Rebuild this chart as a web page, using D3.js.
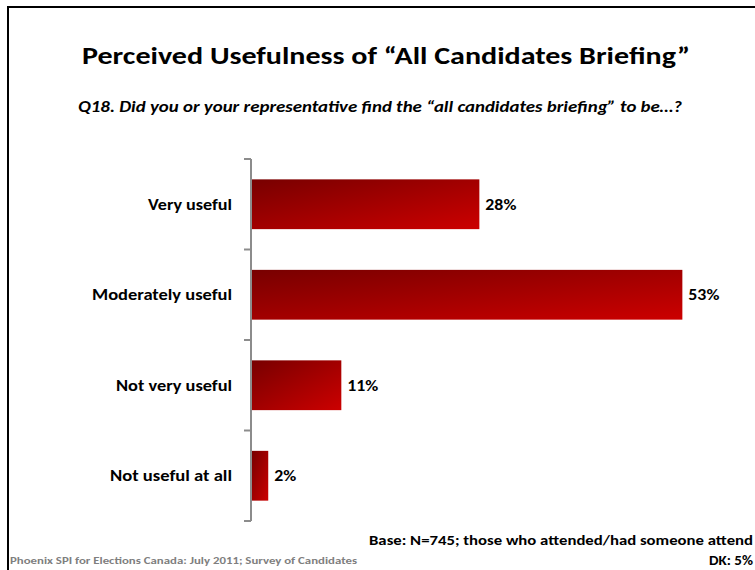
<!DOCTYPE html>
<html>
<head>
<meta charset="utf-8">
<script src="https://cdn.jsdelivr.net/npm/d3@7"></script>
<style>
  html, body { margin: 0; padding: 0; background: #fff; }
  svg { display: block; font-family: Carlito, Lato, "Open Sans", sans-serif; }
</style>
</head>
<body>
<svg id="chart" width="755" height="570"></svg>
<script>
// Survey responses (percent)
const categories = ["Very useful", "Moderately useful", "Not very useful", "Not useful at all"];
const values = [28, 53, 11, 2];
const valueLabels = ["28%", "53%", "11%", "2%"];

const titleText = "Perceived Usefulness of \u201cAll Candidates Briefing\u201d";
const subtitleText = "Q18. Did you or your representative find the \u201call candidates briefing\u201d to be\u2026?";
const sourceText = "Phoenix SPI for Elections Canada: July 2011; Survey of Candidates";
const baseText = "Base: N=745; those who attended/had someone attend";
const dkText = "DK: 5%";

// Approximate rendered widths of the Calibri-style labels
const catWidths = [84, 140, 116, 122];
const valWidths = [31, 31, 31, 22];

const svg = d3.select("#chart");

// Slide frame (top and left edges visible)
svg.append("path")
  .attr("d", "M8,570 L8,7 L755,7")
  .attr("fill", "none")
  .attr("stroke", "#000")
  .attr("stroke-width", 2);

// Bar gradient: dark red top-left to bright red bottom-right
const defs = svg.append("defs");
const grad = defs.append("linearGradient")
  .attr("id", "barGrad")
  .attr("x1", 0).attr("y1", 0).attr("x2", 1).attr("y2", 1);
grad.append("stop").attr("offset", "0%").attr("stop-color", "#780000");
grad.append("stop").attr("offset", "100%").attr("stop-color", "#cc0000");

// Titles
svg.append("text")
  .attr("x", 386).attr("y", 64)
  .attr("text-anchor", "middle")
  .attr("font-size", 25).attr("font-weight", "bold")
  .attr("textLength", 608).attr("lengthAdjust", "spacingAndGlyphs")
  .text(titleText);

svg.append("text")
  .attr("x", 380).attr("y", 112)
  .attr("text-anchor", "middle")
  .attr("font-size", 15).attr("font-weight", "bold").attr("font-style", "italic")
  .attr("textLength", 604).attr("lengthAdjust", "spacingAndGlyphs")
  .text(subtitleText);

// Scales
const x = d3.scaleLinear().domain([0, 100]).range([252, 1064]);
const y = d3.scaleBand().domain(categories).range([159, 521]).paddingInner(0.45).paddingOuter(0.225);

// Bars
svg.selectAll("rect.bar")
  .data(values)
  .enter().append("rect")
  .attr("class", "bar")
  .attr("x", x(0))
  .attr("y", (d, i) => y(categories[i]))
  .attr("width", d => x(d) - x(0))
  .attr("height", y.bandwidth())
  .attr("fill", "url(#barGrad)");

// Value labels
svg.selectAll("text.val")
  .data(values)
  .enter().append("text")
  .attr("class", "val")
  .attr("x", d => x(d) + 6)
  .attr("y", (d, i) => y(categories[i]) + y.bandwidth() / 2)
  .attr("dy", "0.35em")
  .attr("font-size", 16).attr("font-weight", "bold")
  .attr("textLength", (d, i) => valWidths[i]).attr("lengthAdjust", "spacingAndGlyphs")
  .text((d, i) => valueLabels[i]);

// Category axis with ticks between categories
const axisX = 251;
const axisG = svg.append("g");
axisG.append("line")
  .attr("x1", axisX).attr("x2", axisX)
  .attr("y1", 159).attr("y2", 521)
  .attr("stroke", "#8c8c8c").attr("stroke-width", 2);
const tickYs = d3.range(categories.length + 1).map(i => 159 + i * (362 / categories.length));
axisG.selectAll("line.tick")
  .data(tickYs)
  .enter().append("line")
  .attr("class", "tick")
  .attr("x1", axisX - 7).attr("x2", axisX)
  .attr("y1", d => d).attr("y2", d => d)
  .attr("stroke", "#8c8c8c").attr("stroke-width", 2);

axisG.selectAll("text.cat")
  .data(categories)
  .enter().append("text")
  .attr("class", "cat")
  .attr("x", 232)
  .attr("y", d => y(d) + y.bandwidth() / 2)
  .attr("dy", "0.35em")
  .attr("text-anchor", "end")
  .attr("font-size", 16).attr("font-weight", "bold")
  .attr("textLength", (d, i) => catWidths[i]).attr("lengthAdjust", "spacingAndGlyphs")
  .text(d => d);

// Footer notes
svg.append("text")
  .attr("x", 10).attr("y", 564)
  .attr("font-size", 10).attr("font-weight", "bold")
  .attr("fill", "#7f7f7f")
  .attr("textLength", 347).attr("lengthAdjust", "spacingAndGlyphs")
  .text(sourceText);

svg.append("text")
  .attr("x", 369).attr("y", 545)
  .attr("font-size", 13).attr("font-weight", "bold")
  .attr("textLength", 384).attr("lengthAdjust", "spacingAndGlyphs")
  .text(baseText);

svg.append("text")
  .attr("x", 753).attr("y", 565)
  .attr("text-anchor", "end")
  .attr("font-size", 13).attr("font-weight", "bold")
  .attr("textLength", 44).attr("lengthAdjust", "spacingAndGlyphs")
  .text(dkText);
</script>
</body>
</html>
